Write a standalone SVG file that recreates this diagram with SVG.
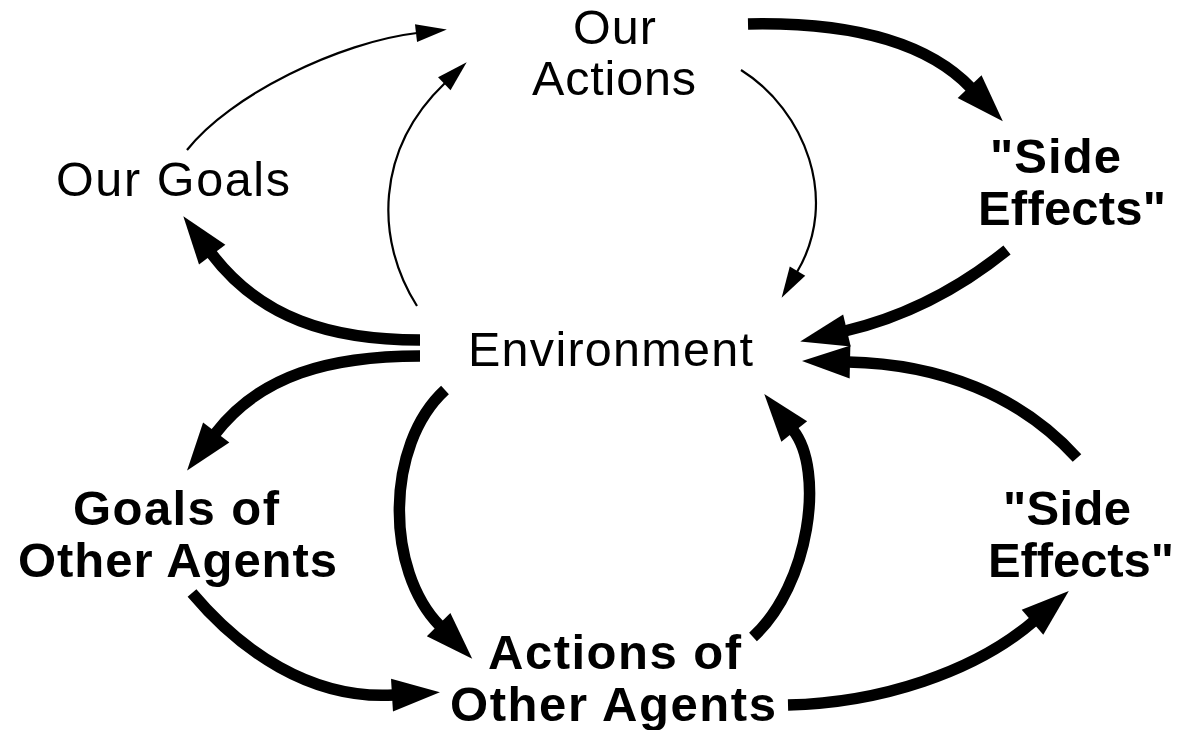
<svg xmlns="http://www.w3.org/2000/svg" width="1180" height="730" viewBox="0 0 1180 730">
<style>
.lbl{font-family:"Liberation Sans",Arial,Helvetica,sans-serif;font-size:48.5px;fill:#000}
.b{font-weight:bold;font-size:49px}
.thin{fill:none;stroke:#000;stroke-width:2.2}
.thick{fill:none;stroke:#000;stroke-width:11.5}
</style>
<defs>
<marker id="hThin" markerUnits="userSpaceOnUse" markerWidth="40" markerHeight="30" refX="1" refY="0" orient="auto" overflow="visible"><path d="M0,-9 L31,0 L0,9 z" fill="#000"/></marker>
<marker id="hThick" markerUnits="userSpaceOnUse" markerWidth="60" markerHeight="40" refX="2" refY="0" orient="auto" overflow="visible"><path d="M0,-16.5 L48,0 L0,16.5 z" fill="#000"/></marker>
</defs>
<rect width="1180" height="730" fill="#fff"/>
<g id="connectors">
<path class="thin" d="M187,150 C230,95 340,42 417,33" marker-end="url(#hThin)"/>
<path class="thin" d="M417,306 C375,240 375,150 445,83" marker-end="url(#hThin)"/>
<path class="thin" d="M741,70 C805,110 840,200 797,272" marker-end="url(#hThin)"/>
<path class="thick" d="M748,24 C845,22 925,40 971,88" marker-end="url(#hThick)"/>
<path class="thick" d="M1007,250 C955,292 900,318 845,331" marker-end="url(#hThick)"/>
<path class="thick" d="M1077,458 C1020,395 940,364 848,362" marker-end="url(#hThick)"/>
<path class="thick" d="M420,340 C330,340 260,318 211,253" marker-end="url(#hThick)"/>
<path class="thick" d="M420,356 C330,356 260,375 215,434" marker-end="url(#hThick)"/>
<path class="thick" d="M445,390 C385,445 385,570 440,626" marker-end="url(#hThick)"/>
<path class="thick" d="M753,637 C810,585 825,470 793,430" marker-end="url(#hThick)"/>
<path class="thick" d="M192,593 C240,650 310,700 394,695" marker-end="url(#hThick)"/>
<path class="thick" d="M788,705 C880,703 975,672 1034,621" marker-end="url(#hThick)"/>
</g>
<g id="our-actions"><text class="lbl" x="573" y="44" textLength="83" lengthAdjust="spacing">Our</text><text class="lbl" x="532" y="95" textLength="164" lengthAdjust="spacing">Actions</text></g>
<g id="our-goals"><text class="lbl" x="56" y="196" textLength="234" lengthAdjust="spacing">Our Goals</text></g>
<g id="side-effects-1"><text class="lbl b" x="990" y="173" textLength="131" lengthAdjust="spacing">"Side</text><text class="lbl b" x="978" y="225" textLength="188" lengthAdjust="spacing">Effects"</text></g>
<g id="environment"><text class="lbl" x="468" y="366" textLength="285" lengthAdjust="spacing">Environment</text></g>
<g id="goals-other"><text class="lbl b" x="73" y="525" textLength="206" lengthAdjust="spacing">Goals of</text><text class="lbl b" x="18" y="577" textLength="319" lengthAdjust="spacing">Other Agents</text></g>
<g id="side-effects-2"><text class="lbl b" x="1003" y="525" textLength="128" lengthAdjust="spacing">"Side</text><text class="lbl b" x="988" y="577" textLength="186" lengthAdjust="spacing">Effects"</text></g>
<g id="actions-other"><text class="lbl b" x="488" y="669" textLength="253" lengthAdjust="spacing">Actions of</text><text class="lbl b" x="450" y="721" textLength="326" lengthAdjust="spacing">Other Agents</text></g>
</svg>
